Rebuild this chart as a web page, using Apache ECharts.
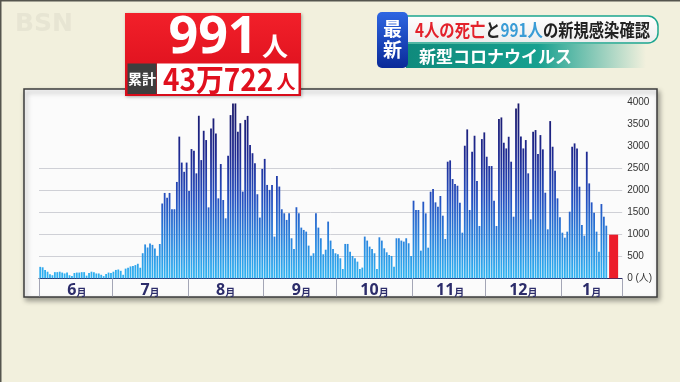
<!DOCTYPE html>
<html><head><meta charset="utf-8">
<script src="https://cdn.jsdelivr.net/npm/echarts@6/dist/echarts.min.js"></script>
<style>html,body{margin:0;padding:0;background:#f2f0dd;}#c{width:680px;height:382px;}</style>
</head><body><div id="c"></div>
<script>
// ---- data ----
const monthLabels = ['6月','7月','8月','9月','10月','11月','12月','1月'];
const monthNums = [6,7,8,9,10,11,12,1];
const monthDays = [30,31,31,30,31,30,31,19];
const jun = [260,250,190,150,90,70,140,140,150,130,110,130,70,50,120,130,130,140,140,60,120,150,140,110,110,80,50,100,130,120];
const jul = [150,190,200,170,80,220,240,270,280,300,330,240,570,770,700,790,760,680,510,780,1700,1940,1830,1940,1570,1570,2190,3220,2630,2420,2630];
const aug = [1983,2937,2899,2385,3694,2687,3353,3142,1612,3406,3634,3293,1817,2597,1779,1363,2786,3709,3974,3974,3331,3525,1971,3600,3691,3032,2843,2615,1910,1380,2486];
const sep = [2714,2122,2009,2122,948,2327,2085,1569,1478,1327,1478,910,667,1615,1478,1152,1099,1061,743,515,569,1478,1152,910,546,650,1289,857,667,569];
const oct = [546,455,212,781,781,606,508,455,379,212,243,948,857,720,667,569,212,932,857,682,591,530,508,265,910,910,857,834,910,796,508];
const nov = [1764,1552,1552,628,1741,1476,696,1968,2029,1726,1628,1870,1423,893,2650,2680,2256,2142,2104,1718,1037,3013,3384,1552,2877,3240,2210,1188,3164,3316];
const dec = [2763,2551,2551,1764,1188,3618,3656,3081,2952,3217,2650,1400,3860,3974,3225,2952,3142,2385,1340,3331,3369,2824,3255,2930,1945,1113,3573,2990,2445,1817,1385];
const jan = [1037,923,1060,1514,2990,3066,2952,2082,1211,969,2877,2157,1726,1491,1060,606,1688,1400,1196];
const todayValue = 991;
const todayName = '1/20';
const yMax = 4000, yStep = 500;
const zeroLabel = '0 (人)';

// ---- build ----
const daily = [].concat(jun, jul, aug, sep, oct, nov, dec, jan);
const cats = [];
monthNums.forEach((m, k) => { for (let d = 1; d <= monthDays[k]; d++) cats.push(m + '/' + d); });
const PAD = 6, TODAY_OFF = 2;
for (let p = 0; p < PAD; p++) cats.push(p === TODAY_OFF ? todayName : '_' + p);
const N = cats.length;
const blue = cats.map((c, i) => i < daily.length ? daily[i] : '-');
const red = cats.map(c => c === todayName ? todayValue : '-');
const starts = []; let acc = 0;
monthDays.forEach(d => { starts.push(acc); acc += d; });
const labelIdx = {};
starts.forEach((s, k) => { const next = k + 1 < starts.length ? starts[k + 1] : N; labelIdx[s + Math.floor((next - s) / 2)] = monthLabels[k]; });

const chart = echarts.init(document.getElementById('c'), null, {renderer: 'canvas'});
const CJK = "'Noto Sans CJK JP','Noto Sans',sans-serif";
const G = echarts.graphic;
const barGrad = new G.LinearGradient(0, 102, 0, 278, [
  {offset: 0, color: '#1a1868'}, {offset: 0.3, color: '#1f2a92'},
  {offset: 0.55, color: '#2550c0'}, {offset: 0.78, color: '#2a84de'}, {offset: 1, color: '#30b4f2'}], true);

chart.setOption({
  backgroundColor: '#f2f0dd',
  animation: false,
  grid: {left: 39, top: 102.3, width: 2.44 * N, height: 176, containLabel: false},
  xAxis: [{
    type: 'category', data: cats, boundaryGap: true,
    axisLine: {show: true, lineStyle: {color: '#2a2a66', width: 1.2}},
    axisTick: {show: true, length: 18, interval: (i) => starts.indexOf(i) >= 0, lineStyle: {color: '#a4a6b6', width: 1}},
    axisLabel: {
      interval: (i) => labelIdx[i] !== undefined, margin: 4,
      formatter: (v, i) => { const t = labelIdx[i] || ''; return '{n|' + t.replace('月', '') + '}{m|月}'; },
      rich: {
        n: {fontSize: 16, fontWeight: 'bold', color: '#2c2c6a', fontFamily: "'Noto Sans','Noto Sans CJK JP',sans-serif", verticalAlign: 'bottom'},
        m: {fontSize: 10, fontWeight: 'bold', color: '#2c2c6a', fontFamily: CJK, verticalAlign: 'bottom', padding: [0, 0, 1, 0]}
      }
    },
    splitLine: {show: false}
  }, {
    type: 'category', data: cats, show: false, boundaryGap: true
  }],
  yAxis: {
    type: 'value', position: 'right', min: 0, max: yMax, interval: yStep,
    axisLine: {show: false}, axisTick: {show: false},
    axisLabel: {margin: 5, color: '#333333', fontSize: 10, fontFamily: "'Liberation Sans','Noto Sans CJK JP',sans-serif",
      formatter: v => v === 0 ? zeroLabel : String(v)},
    splitLine: {show: true, lineStyle: {width: 1, color: ['rgba(0,0,0,0)', '#cfd0d6', '#cfd0d6', '#cfd0d6', '#cfd0d6', '#cfd0d6', 'rgba(0,0,0,0)', 'rgba(0,0,0,0)', 'rgba(0,0,0,0)']}}
  },
  series: [
    {type: 'bar', data: blue, barWidth: 1.8, itemStyle: {color: barGrad}, xAxisIndex: 0},
    {type: 'bar', data: red, barWidth: 9, itemStyle: {color: '#ec1c2a'}, xAxisIndex: 1}
  ],
  graphic: [
    {type: 'rect', z: -20, shape: {x: 0, y: 0, width: 680, height: 1.5}, style: {fill: '#55554e'}},
    {type: 'rect', z: -20, shape: {x: 0, y: 0, width: 1.5, height: 382}, style: {fill: '#55554e'}},
    {type: 'text', z: -20, x: 15, y: 24, style: {text: 'BSN', fill: '#e7e5d3', font: "bold 25px 'DejaVu Sans'", verticalAlign: 'middle'}},
    {type: 'rect', z: -10, shape: {x: 24, y: 89, width: 633, height: 208}, style: {fill: '#fbfbfb', stroke: '#3c3c3c', lineWidth: 1.5, shadowBlur: 5, shadowOffsetX: 2, shadowOffsetY: 3, shadowColor: 'rgba(0,0,0,0.35)'}},
    // red headline box
    {type: 'group', z: 100, children: [
      {type: 'rect', shape: {x: 125, y: 13, width: 176, height: 83}, style: {fill: new G.LinearGradient(0, 0, 0, 1, [{offset: 0, color: '#f2202a'}, {offset: 1, color: '#d80c1a'}]), shadowBlur: 3, shadowOffsetX: 1, shadowOffsetY: 1, shadowColor: 'rgba(0,0,0,0.3)'}},
      {type: 'text', x: 213, y: 38, style: {text: '991', fill: '#ffffff', font: "bold 52px 'Noto Sans', sans-serif", align: 'center', verticalAlign: 'middle'}},
      {type: 'text', x: 275, y: 46, style: {text: '人', fill: '#ffffff', font: "bold 26px " + CJK, align: 'center', verticalAlign: 'middle'}},
      {type: 'rect', shape: {x: 127.5, y: 63.5, width: 29, height: 30.5}, style: {fill: '#3e3e3e'}},
      {type: 'text', x: 142, y: 79, style: {text: '累計', fill: '#ffffff', font: "bold 14px " + CJK, align: 'center', verticalAlign: 'middle'}},
      {type: 'rect', shape: {x: 157, y: 63.5, width: 141.5, height: 30.5}, style: {fill: '#ffffff'}},
      {type: 'text', x: 163, y: 79, scaleX: 0.9, style: {text: '43万722', fill: '#e0101e', font: "bold 31px " + CJK, align: 'left', verticalAlign: 'middle'}},
      {type: 'text', x: 286, y: 82, style: {text: '人', fill: '#e0101e', font: "bold 19px " + CJK, align: 'center', verticalAlign: 'middle'}}
    ]},
    // right banner
    {type: 'group', z: 100, children: [
      {type: 'rect', shape: {x: 406, y: 44, width: 240, height: 24}, style: {fill: new G.LinearGradient(0, 0, 1, 0, [{offset: 0, color: '#0f8a7c'}, {offset: 0.55, color: '#17a08f'}, {offset: 1, color: 'rgba(24,160,144,0)'}])}},
      {type: 'text', x: 419, y: 56.5, style: {text: '新型コロナウイルス', fill: '#ffffff', font: "bold 17px " + CJK, align: 'left', verticalAlign: 'middle'}},
      {type: 'rect', shape: {x: 406, y: 16, width: 252, height: 27, r: [0, 10, 10, 0]}, style: {fill: new G.LinearGradient(0, 0, 0, 1, [{offset: 0, color: '#ffffff'}, {offset: 1, color: '#ececec'}]), stroke: '#1ba58f', lineWidth: 1.5}},
      {type: 'text', x: 415, y: 30, scaleX: 0.85, style: {
        text: '{r|4人の死亡}{k|と}{b|991人}{k|の新規感染確認}',
        verticalAlign: 'middle', align: 'left',
        rich: {
          r: {fill: '#e3222c', font: "bold 18px " + CJK},
          k: {fill: '#222222', font: "bold 18px " + CJK},
          b: {fill: '#3a9cd6', font: "bold 18px " + CJK}
        }}},
      {type: 'rect', shape: {x: 377, y: 12, width: 31, height: 56, r: 5}, style: {fill: new G.LinearGradient(0, 0, 0, 1, [{offset: 0, color: '#2e66e2'}, {offset: 1, color: '#0a2a98'}])}},
      {type: 'text', x: 392.5, y: 29, style: {text: '最', fill: '#ffffff', font: "bold 19px " + CJK, align: 'center', verticalAlign: 'middle'}},
      {type: 'text', x: 392.5, y: 50, style: {text: '新', fill: '#ffffff', font: "bold 19px " + CJK, align: 'center', verticalAlign: 'middle'}}
    ]}
  ]
});
</script></body></html>
